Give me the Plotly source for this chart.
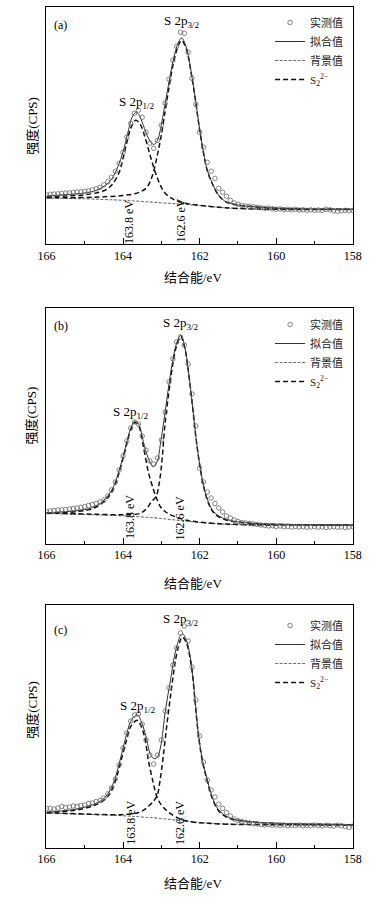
import numpy as np
import plotly.graph_objects as go

# ---------------- data (binding energy in eV, intensity in arbitrary units) -------------
E_grid = [round(166.0 - 0.1 * i, 1) for i in range(81)]

# ---- panel (a)
obs_a = [49.5, 50, 50.3, 50.5, 51, 51.2, 51.5, 52, 52.3, 52.5,
         53, 53.5, 54.5, 55.5, 57, 59.5, 62.5, 67, 73, 81,
         92, 107, 121, 131, 134, 127, 112, 101, 96, 104,
         119, 141, 165, 184, 198, 212, 211, 192, 166, 140,
         112, 97, 82, 73, 66, 56, 52, 48, 44, 41.5,
         40, 39, 38.3, 38, 37.5, 37, 36.5, 36, 36.3, 35.5,
         35, 35.3, 34.7, 35, 34.5, 35, 34.3, 34.6, 34, 34.5,
         34, 34.3, 33.8, 35, 34.5, 33.5, 33, 33.5, 34, 33.5, 34]
E_fit_a = [166.0, 165.5, 165.0, 164.7, 164.46, 164.29, 164.13, 164.0, 163.88, 163.76, 163.67,
           163.59, 163.47, 163.34, 163.2, 163.1, 163.02, 162.91, 162.8, 162.68, 162.55, 162.47,
           162.35, 162.22, 162.1, 162.0, 161.9, 161.8, 161.68, 161.5, 161.3, 161.06, 160.5,
           159.65, 158.0]
fit_a = [48.3, 49.7, 51.3, 54, 59, 65.7, 78, 92.3, 110.7, 127.3, 131.7,
         129.7, 119, 106.3, 99.7, 104, 115.7, 139, 162.3, 185.7, 202.3, 206.3,
         197.3, 172.3, 142.3, 115, 92, 74, 62, 49, 42.3, 39.7, 37.3,
         35.7, 35.2]
E_bg_a = [166.0, 165.0, 164.0, 163.5, 163.0, 162.5, 162.0, 161.5, 161.0, 160.5, 160.0, 158.0]
bg_a = [46.3, 45.5, 44, 42.8, 41.5, 40.3, 38.8, 37, 35.8, 35.2, 35, 34.8]
E_p12_a = [166.0, 165.5, 165.0, 164.5, 164.3, 164.1, 164.0, 163.9, 163.8, 163.67, 163.55, 163.42,
           163.3, 163.2, 163.1, 163.0, 162.9, 162.75, 162.6, 162.4, 162.0, 161.5, 161.0, 160.0, 158.0]
p12_a = [47.5, 48.3, 49.5, 53.5, 59, 72, 86, 102, 116, 124, 120, 106,
         90, 77, 66, 57, 51, 46.5, 43.5, 41.3, 39, 37, 35.8, 35, 34.8]
E_p32_a = [166.0, 165.0, 164.5, 164.0, 163.7, 163.55, 163.4, 163.3, 163.2, 163.1, 163.02, 162.91,
           162.8, 162.68, 162.55, 162.47, 162.35, 162.22, 162.1, 162.0, 161.9, 161.8, 161.68,
           161.5, 161.3, 161.06, 160.5, 159.65, 158.0]
p32_a = [46.5, 46.8, 47.5, 48.8, 50.5, 52.5, 56, 62, 73, 90, 105, 131,
         157, 182, 199.5, 204, 195.5, 171, 141.5, 114.5, 91.5, 73.5, 61.5,
         48.7, 42.1, 39.6, 37.2, 35.6, 35]

# ---- panel (b)
obs_b = [32.3, 33, 33.5, 34, 34.3, 34.5, 35, 35.5, 36, 36.7,
         37.3, 38.5, 39.5, 40.7, 42, 44, 48, 54, 62, 74,
         88, 103, 116, 122, 120, 108, 94, 83, 80, 86,
         104, 132, 162, 185, 202, 207, 199, 180, 150, 118,
         76, 62, 52, 46, 40.5, 36, 32, 28, 26, 24,
         22.5, 21.5, 21, 20.5, 20, 19.5, 19, 18.5, 18, 18.3,
         17.5, 18, 17.3, 17.5, 17, 17.5, 17, 17.3, 16.8, 17,
         17.3, 16.8, 17, 16.5, 17, 17.3, 16.8, 17, 16.5, 17, 17.5]
E_fit_b = [166.0, 165.5, 165.2, 164.8, 164.54, 164.38, 164.25, 164.13, 164.0, 163.9, 163.8,
           163.69, 163.59, 163.47, 163.34, 163.21, 163.11, 163.02, 162.91, 162.8, 162.7, 162.6,
           162.49, 162.39, 162.3, 162.2, 162.1, 162.0, 161.9, 161.8, 161.7, 161.6, 161.4, 161.2,
           160.8, 160.5, 160.0, 159.0, 158.0]
fit_b = [31.3, 32.3, 33.3, 36.3, 42.3, 49, 57.3, 70, 87.3, 102.3, 115.7,
         123, 119.7, 102.3, 85.7, 77.3, 82.3, 101, 130, 160, 184, 201,
         209, 197, 175, 143, 108, 80, 59, 45, 36, 31, 26, 23.5,
         21.3, 20.5, 19.8, 19.3, 19]
E_bg_b = [166.0, 165.0, 164.0, 163.5, 163.0, 162.5, 162.0, 161.5, 161.0, 160.0, 158.0]
bg_b = [30.5, 29.5, 28.2, 27, 25.5, 23.5, 21.5, 20.2, 19.4, 19, 18.8]
E_p12_b = [166.0, 165.2, 164.8, 164.54, 164.38, 164.25, 164.13, 164.0, 163.9, 163.8, 163.69,
           163.59, 163.47, 163.34, 163.21, 163.14, 163.02, 162.9, 162.8, 162.55, 162.3, 162.0,
           161.5, 161.0, 160.0, 158.0]
p12_b = [30.8, 32.3, 35.3, 41, 47.5, 55.5, 68, 85.5, 100.5, 114, 121.5,
         118, 98, 72, 55, 47.3, 37, 32.5, 30, 26, 23.5, 21.8,
         20.3, 19.5, 19, 18.8]
E_p32_b = [166.0, 165.0, 164.5, 164.0, 163.55, 163.38, 163.26, 163.14, 163.05, 162.98, 162.91,
           162.8, 162.7, 162.6, 162.49, 162.39, 162.3, 162.2, 162.1, 162.0, 161.9, 161.8, 161.7,
           161.6, 161.4, 161.2, 160.8, 160.5, 160.0, 159.0, 158.0]
p32_b = [31, 30, 29.5, 29.2, 30.7, 35.7, 42.3, 47.3, 62, 85, 118,
         153, 180, 198.5, 207.5, 196.5, 174.5, 142.5, 107.5, 79.3, 58, 44, 35,
         30, 25.3, 23, 21, 20.3, 19.6, 19.2, 19]

# ---- panel (c)
obs_c = [39.5, 39.7, 39, 40, 41.5, 40.5, 41, 42, 41.5, 42.5,
         43, 44.5, 45, 46.5, 47.5, 50, 54, 60, 69, 83,
         100, 115, 127, 133, 134, 124, 108, 93, 84, 93,
         108, 137, 160, 183, 200, 215, 222, 207, 181, 148,
         112, 86, 68, 58, 51, 44, 39.5, 35.5, 32, 29,
         27.5, 26.5, 25.5, 25, 24.3, 24, 23.5, 23, 23.3, 22.7,
         23, 22.5, 23, 22.3, 22.8, 22.5, 23, 22.2, 22.7, 22.3,
         23, 22.5, 22, 22.8, 22.3, 22, 22.8, 22.2, 21.5, 20.5, 22]
E_fit_c = [166.0, 165.5, 165.2, 164.8, 164.54, 164.38, 164.25, 164.13, 164.0, 163.9, 163.8,
           163.63, 163.51, 163.38, 163.3, 163.22, 163.17, 163.1, 163.02, 162.89, 162.76, 162.64,
           162.51, 162.45, 162.35, 162.22, 162.12, 162.05, 161.93, 161.8, 161.68, 161.51, 161.3,
           161.06, 160.47, 159.65, 158.0]
fit_c = [35.7, 37.5, 39, 43.3, 48.3, 55, 65, 80, 100, 114.5, 126.7,
         133.3, 125, 108.3, 95, 90, 89.3, 91, 101, 138.3, 168.3, 195,
         211.7, 214.3, 208.3, 185, 148, 120, 88.3, 68.3, 51.7, 38.3, 31.7,
         28.3, 25.7, 24.3, 23.3]
E_bg_c = [166.0, 165.0, 164.0, 163.5, 163.0, 162.5, 162.0, 161.5, 161.0, 160.0, 158.0]
bg_c = [35, 33.7, 32.3, 31, 29.5, 27.5, 25.5, 24.3, 23.7, 23.3, 23]
E_p12_c = [166.0, 165.5, 165.2, 164.8, 164.54, 164.38, 164.25, 164.13, 164.0, 163.9, 163.8,
           163.63, 163.51, 163.42, 163.34, 163.21, 163.12, 163.0, 162.85, 162.72, 162.47, 162.2,
           161.8, 161.3, 160.5, 158.0]
p12_c = [35.5, 36.8, 38, 42, 46.5, 52.5, 61.5, 76, 95, 109, 121.5,
         127.7, 120, 108, 88, 65, 51.7, 43, 37, 33.3, 28.3, 26,
         24.7, 23.8, 23.4, 23]
E_p32_c = [166.0, 165.0, 164.5, 164.0, 163.55, 163.3, 163.12, 163.04, 162.95, 162.85, 162.74,
           162.62, 162.51, 162.45, 162.35, 162.22, 162.12, 162.05, 161.93, 161.8, 161.68, 161.51,
           161.3, 161.06, 160.47, 159.65, 158.0]
p32_c = [35.3, 34, 33.4, 33.5, 36, 43, 51.7, 66, 92, 125, 158,
         190, 207, 211, 205.5, 183, 147, 119, 87, 67, 50.5, 37.5,
         31, 28, 25.5, 24.2, 23.3]

# tick labels / texts
x_ticks = [166, 164, 162, 160, 158]
x_minor = [165, 163, 161, 159]
panel_tags = ["(a)", "(b)", "(c)"]
legend_names = ["实测值", "拟合值", "背景值", "S<sub>2</sub><sup>2−</sup>"]
x_title = "结合能/eV"
y_title = "强度(CPS)"

# ---------------- layout geometry ----------------
W, H = 379, 905
SERIF = "Liberation Serif, Times New Roman, Noto Sans CJK SC, serif"
x_dom = [39.3 / W, 361.0 / W]
panels = [
    dict(top=7.3, bot=244.3, yr=237.0, obs=obs_a, Ef=E_fit_a, fit=fit_a, Eb=E_bg_a, bg=bg_a,
         E12=E_p12_a, p12=p12_a, E32=E_p32_a, p32=p32_a,
         l32=(162.46, 223), l12=(163.64, 142), tag=(165.62, 219), ev=[(163.86, 22.6), (162.49, 23.6)],
         leg_top=8, xt=277, yt_c=126),
    dict(top=308.3, bot=544.0, yr=235.7, obs=obs_b, Ef=E_fit_b, fit=fit_b, Eb=E_bg_b, bg=bg_b,
         E12=E_p12_b, p12=p12_b, E32=E_p32_b, p32=p32_b,
         l32=(162.48, 220.7), l12=(163.8, 132), tag=(165.62, 218), ev=[(163.8, 26.7), (162.51, 25.7)],
         leg_top=310, xt=583.3, yt_c=415.7),
    dict(top=605.0, bot=848.0, yr=243.0, obs=obs_c, Ef=E_fit_c, fit=fit_c, Eb=E_bg_c, bg=bg_c,
         E12=E_p12_c, p12=p12_c, E32=E_p32_c, p32=p32_c,
         l32=(162.48, 228.3), l12=(163.62, 142), tag=(165.64, 218), ev=[(163.8, 25), (162.51, 25)],
         leg_top=611, xt=883.3, yt_c=710),
]

fig = go.Figure()
annotations = []
layout = {}
for i, p in enumerate(panels):
    n = i + 1
    xa = "x" if n == 1 else f"x{n}"
    ya = "y" if n == 1 else f"y{n}"
    leg = "legend" if n == 1 else f"legend{n}"
    # background
    fig.add_trace(go.Scatter(x=p["Eb"], y=p["bg"], mode="lines", name=legend_names[2],
                             line=dict(color="#707070", width=1.1, dash="3px,1.5px", shape="spline"),
                             xaxis=xa, yaxis=ya, legend=leg, legendrank=3))
    # components
    fig.add_trace(go.Scatter(x=p["E12"], y=p["p12"], mode="lines", name=legend_names[3],
                             line=dict(color="#111", width=1.5, dash="5px,3px", shape="spline"),
                             xaxis=xa, yaxis=ya, legend=leg, legendrank=4, legendgroup=f"c{n}"))
    fig.add_trace(go.Scatter(x=p["E32"], y=p["p32"], mode="lines", name=legend_names[3],
                             line=dict(color="#111", width=1.5, dash="5px,3px", shape="spline"),
                             xaxis=xa, yaxis=ya, legend=leg, legendrank=4, legendgroup=f"c{n}",
                             showlegend=False))
    # fit
    fig.add_trace(go.Scatter(x=p["Ef"], y=p["fit"], mode="lines", name=legend_names[1],
                             line=dict(color="#333", width=1, shape="spline"),
                             xaxis=xa, yaxis=ya, legend=leg, legendrank=2))
    # observed
    fig.add_trace(go.Scatter(x=E_grid, y=p["obs"], mode="markers", name=legend_names[0],
                             marker=dict(symbol="circle-open", size=4.5, color="#666",
                                         line=dict(width=0.8, color="#666")),
                             xaxis=xa, yaxis=ya, legend=leg, legendrank=1))

    ydom = [1 - p["bot"] / H, 1 - p["top"] / H]
    layout[f"xaxis{'' if n == 1 else n}"] = dict(
        domain=x_dom, anchor=ya, range=[166, 158], tickmode="array", tickvals=x_ticks,
        ticks="inside", ticklen=6, tickwidth=1, tickcolor="black",
        minor=dict(tickmode="array", tickvals=x_minor, ticks="inside", ticklen=3,
                   tickwidth=1, tickcolor="black"),
        showline=True, linecolor="black", linewidth=1, mirror=True,
        showgrid=False, zeroline=False,
        tickfont=dict(family=SERIF, size=12, color="black"))
    layout[f"yaxis{'' if n == 1 else n}"] = dict(
        domain=ydom, anchor=xa, range=[0, p["yr"]], showticklabels=False, ticks="",
        showline=True, linecolor="black", linewidth=1, mirror=True,
        showgrid=False, zeroline=False)
    layout[leg] = dict(x=356 / W, xanchor="right", y=1 - p["leg_top"] / H, yanchor="top",
                       bgcolor="rgba(0,0,0,0)", borderwidth=0, itemwidth=30,
                       font=dict(family=SERIF, size=11, color="#222"),
                       traceorder="normal")

    txt = dict(family=SERIF, color="black")
    c = dict(showarrow=False, xanchor="center", yanchor="middle")
    annotations += [
        dict(x=p["l32"][0], y=p["l32"][1], xref=xa, yref=ya, text="S 2p<sub>3/2</sub>",
             font=dict(size=13, **txt), **c),
        dict(x=p["l12"][0], y=p["l12"][1], xref=xa, yref=ya, text="S 2p<sub>1/2</sub>",
             font=dict(size=13, **txt), **c),
        dict(x=p["tag"][0], y=p["tag"][1], xref=xa, yref=ya, text=panel_tags[i],
             font=dict(size=12, **txt), **c),
        dict(x=p["ev"][0][0], y=p["ev"][0][1], xref=xa, yref=ya, text="163.8 eV",
             textangle=-90, font=dict(size=12, **txt), **c),
        dict(x=p["ev"][1][0], y=p["ev"][1][1], xref=xa, yref=ya, text="162.6 eV",
             textangle=-90, font=dict(size=12, **txt), **c),
        dict(x=193 / W, y=1 - p["xt"] / H, xref="paper", yref="paper", text=x_title,
             font=dict(size=13, **txt), **c),
        dict(x=24 / W, y=1 - p["yt_c"] / H, xref="paper", yref="paper", text=y_title,
             textangle=-90, font=dict(size=13, **txt), **c),
    ]

fig.update_layout(width=W, height=H, margin=dict(l=0, r=0, t=0, b=0),
                  paper_bgcolor="white", plot_bgcolor="white",
                  annotations=annotations, **layout)
fig.write_html("out.html", config={"displayModeBar": False},
               post_script="document.body.style.margin='0';")
